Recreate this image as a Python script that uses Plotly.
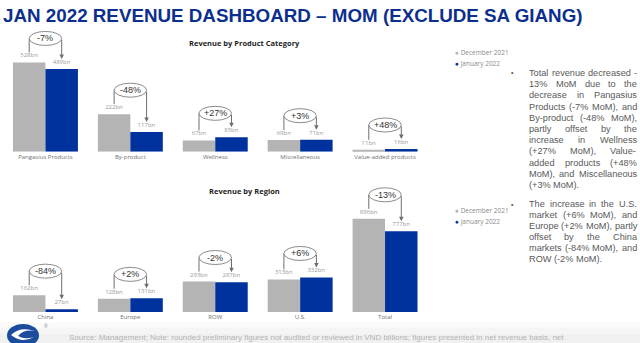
import plotly.graph_objects as go

# ---------------- data ----------------
product_categories = ["Pangasius Products", "By-product", "Wellness", "Miscellaneous", "Value-added products"]
product_dec2021 = [528, 222, 67, 69, 11]
product_jan2022 = [489, 117, 85, 71, 16]
product_change = ["-7%", "-48%", "+27%", "+3%", "+48%"]

region_categories = ["China", "Europe", "ROW", "U.S.", "Total"]
region_dec2021 = [162, 128, 293, 313, 896]
region_jan2022 = [27, 131, 287, 332, 777]
region_change = ["-84%", "+2%", "-2%", "+6%", "-13%"]

series_names = ["December 2021", "January 2022"]

title_text = "JAN 2022 REVENUE DASHBOARD \u2013 MOM (EXCLUDE SA GIANG)"
chart_titles = ["Revenue by Product Category", "Revenue by Region"]
paragraph1 = ["Total revenue decreased -", "13% MoM due to the", "decrease in Pangasius",
              "Products (-7% MoM), and", "By-product (-48% MoM),", "partly offset by the",
              "increase in Wellness", "(+27% MoM), Value-", "added products (+48%",
              "MoM), and Miscellaneous", "(+3% MoM)."]
paragraph2 = ["The increase in the U.S.", "market (+6% MoM), and", "Europe (+2% MoM), partly",
              "offset by the China", "markets (-84% MoM), and", "ROW (-2% MoM)."]
footer_text = ("Source: Management; Note: rounded preliminary figures not audited or reviewed in "
               "VND billions; figures presented in net revenue basis, net")

# ---------------- style ----------------
W, H = 640, 343
GRAY = "#b4b4b4"
BLUE = "#00329e"
LINE = "#6e6e6e"
SMALL_FONT = "Open Sans, Noto Sans, sans-serif"
ARIAL = "Liberation Sans, Arial, sans-serif"
BARGAP = 0.235


def px(x):
    return x / W


def py(y):
    return 1 - y / H


X_LEFT, X_RIGHT = 3, 427.5
TOP_TOP, TOP_BASE, TOP_RANGE = 30, 151.7, 720
BOT_TOP, BOT_BASE, BOT_RANGE = 180, 312, 1269
k_top = (TOP_BASE - TOP_TOP) / TOP_RANGE
k_bot = (BOT_BASE - BOT_TOP) / BOT_RANGE

fig = go.Figure()


def add_bars(cats, dec, jan, xa, ya):
    for name, vals, col in [(series_names[0], dec, GRAY), (series_names[1], jan, BLUE)]:
        fig.add_bar(
            x=cats, y=vals, name=name, marker=dict(color=col, line=dict(width=0)),
            text=[f"{v}bn" for v in vals], textposition="outside",
            textfont=dict(size=6, color="#9a9a9a", family=SMALL_FONT),
            cliponaxis=False, xaxis=xa, yaxis=ya, showlegend=False, hoverinfo="skip",
        )


add_bars(product_categories, product_dec2021, product_jan2022, "x", "y")
add_bars(region_categories, region_dec2021, region_jan2022, "x2", "y2")

off = (1 - BARGAP) / 4


def add_callouts(dec, jan, pct, xr, yr, k):
    for i, (d, j, p) in enumerate(zip(dec, jan, pct)):
        xl, xrr = i - off, i + off
        c = max(d, j) + 24 / k
        h = 14 / k
        fig.add_shape(type="line", xref=xr, yref=yr, x0=xl, x1=xl, y0=c, y1=d + 10 / k,
                      line=dict(color=LINE, width=1))
        fig.add_annotation(xref=xr, yref=yr, axref=xr, ayref=yr, x=xrr, y=j + 10 / k,
                           ax=xrr, ay=c, text="", showarrow=True, arrowhead=2,
                           arrowsize=0.9, arrowwidth=1, arrowcolor=LINE, standoff=0)
        fig.add_shape(type="circle", xref=xr, yref=yr, x0=xl, x1=xrr, y0=c - h / 2, y1=c + h / 2,
                      fillcolor="white", line=dict(color=LINE, width=0.8))
        fig.add_annotation(xref=xr, yref=yr, x=i, y=c, text=p, showarrow=False,
                           font=dict(size=9, color="#333333", family=ARIAL))


add_callouts(product_dec2021, product_jan2022, product_change, "x", "y", k_top)
add_callouts(region_dec2021, region_jan2022, region_change, "x2", "y2", k_bot)

ann = []
# main title
ann.append(dict(xref="paper", yref="paper", x=px(1), y=py(15), xanchor="left", yanchor="middle",
                text=f"<b>{title_text}</b>", showarrow=False,
                font=dict(size=18.8, color="#0c2f8e", family=ARIAL)))
# chart titles
for t, yy in zip(chart_titles, [43, 191]):
    ann.append(dict(xref="paper", yref="paper", x=px(244), y=py(yy), xanchor="center",
                    yanchor="middle", text=f"<b>{t}</b>", showarrow=False,
                    font=dict(size=7.5, color="#252525", family=SMALL_FONT)))
# legends
for base in [52.5, 210.5]:
    for n, (name, col) in enumerate(zip(series_names, [GRAY, BLUE])):
        ann.append(dict(xref="paper", yref="paper", x=px(453), y=py(base + n * 11),
                        xanchor="left", yanchor="middle", showarrow=False,
                        text=f'<span style="color:{col}">\u25cf</span> {name}',
                        font=dict(size=6.5, color="#8a8a8a", family=SMALL_FONT)))

# justified paragraphs
AW = {' ': 278, '%': 889, '(': 333, ')': 333, '+': 584, ',': 278, '-': 333, '.': 278,
      'A': 667, 'B': 667, 'C': 722, 'D': 722, 'E': 667, 'F': 611, 'G': 778, 'H': 722, 'I': 278,
      'J': 500, 'K': 667, 'L': 556, 'M': 833, 'N': 722, 'O': 778, 'P': 667, 'Q': 778, 'R': 722,
      'S': 667, 'T': 611, 'U': 722, 'V': 667, 'W': 944, 'X': 667, 'Y': 667, 'Z': 611,
      'a': 556, 'b': 556, 'c': 500, 'd': 556, 'e': 556, 'f': 278, 'g': 556, 'h': 556, 'i': 222,
      'j': 222, 'k': 500, 'l': 222, 'm': 833, 'n': 556, 'o': 556, 'p': 556, 'q': 556, 'r': 333,
      's': 500, 't': 278, 'u': 556, 'v': 500, 'w': 722, 'x': 500, 'y': 500, 'z': 500}
FS = 9.2
TX0, TX1 = 528, 636


def tw(s):
    return sum(AW.get(ch, 556) for ch in s) * FS / 1000


def add_paragraph(lines, y0, dy):
    ann.append(dict(xref="paper", yref="paper", x=px(509), y=py(y0), xanchor="left",
                    yanchor="middle", text="\u2022", showarrow=False,
                    font=dict(size=7, color="#555555", family=ARIAL)))
    for li, line in enumerate(lines):
        words = line.split(" ")
        yy = y0 + li * dy
        last = li == len(lines) - 1
        widths = [tw(w) for w in words]
        if last or len(words) == 1:
            gap = tw(" ")
        else:
            gap = max(tw(" "), (TX1 - TX0 - sum(widths)) / (len(words) - 1))
        x = TX0
        for w, wd in zip(words, widths):
            ann.append(dict(xref="paper", yref="paper", x=px(x), y=py(yy), xanchor="left",
                            yanchor="middle", text=w, showarrow=False, borderpad=0,
                            font=dict(size=FS, color="#595959", family=ARIAL)))
            x += wd + gap


add_paragraph(paragraph1, 73, 11.2)
add_paragraph(paragraph2, 204, 11)

# footer
ann.append(dict(xref="paper", yref="paper", x=px(67), y=py(337), xanchor="left", yanchor="middle",
                text=footer_text, showarrow=False,
                font=dict(size=8, color="#b3b3b3", family=ARIAL)))
ann.append(dict(xref="paper", yref="paper", x=px(42), y=py(326), xanchor="left", yanchor="middle",
                text="\u00ae", showarrow=False, font=dict(size=5, color="#888888", family=ARIAL)))
for a in ann:
    fig.add_annotation(**a)

# footer band and logo
for i, colr in enumerate(["#fafafa", "#f5f5f5", "#f0f0f0"]):
    fig.add_shape(type="rect", xref="paper", yref="paper", x0=0, x1=1,
                  y0=0, y1=py(322 + i * 6), fillcolor=colr, line=dict(width=0), layer="below")
fig.add_shape(type="circle", xref="paper", yref="paper", x0=px(7), x1=px(39), y0=py(347),
              y1=py(324), fillcolor="#1c4c9d", line=dict(width=0))
swoosh = (f"M {px(11)} {py(335)} Q {px(20)} {py(326)} {px(35)} {py(331)} "
          f"Q {px(24)} {py(329)} {px(18)} {py(336)} Q {px(25)} {py(340)} {px(34)} {py(337)} "
          f"Q {px(22)} {py(344)} {px(11)} {py(335)} Z")
fig.add_shape(type="path", xref="paper", yref="paper", path=swoosh, fillcolor="white",
              line=dict(width=0))

axis_common = dict(type="category", showgrid=False, showline=False, zeroline=False, ticks="",
                   tickfont=dict(size=6, color="#707070", family=SMALL_FONT), fixedrange=True)
fig.update_layout(
    width=W, height=H, margin=dict(l=0, r=0, t=0, b=0),
    paper_bgcolor="white", plot_bgcolor="rgba(0,0,0,0)",
    barmode="group", bargap=BARGAP, bargroupgap=0, showlegend=False,
    xaxis=dict(domain=[px(X_LEFT), px(X_RIGHT)], anchor="y", **axis_common),
    yaxis=dict(domain=[py(TOP_BASE), py(TOP_TOP)], range=[0, TOP_RANGE], visible=False,
               fixedrange=True),
    xaxis2=dict(domain=[px(X_LEFT), px(X_RIGHT)], anchor="y2", **axis_common),
    yaxis2=dict(domain=[py(BOT_BASE), py(BOT_TOP)], range=[0, BOT_RANGE], visible=False,
                fixedrange=True),
)

fig.write_html("out.html")
